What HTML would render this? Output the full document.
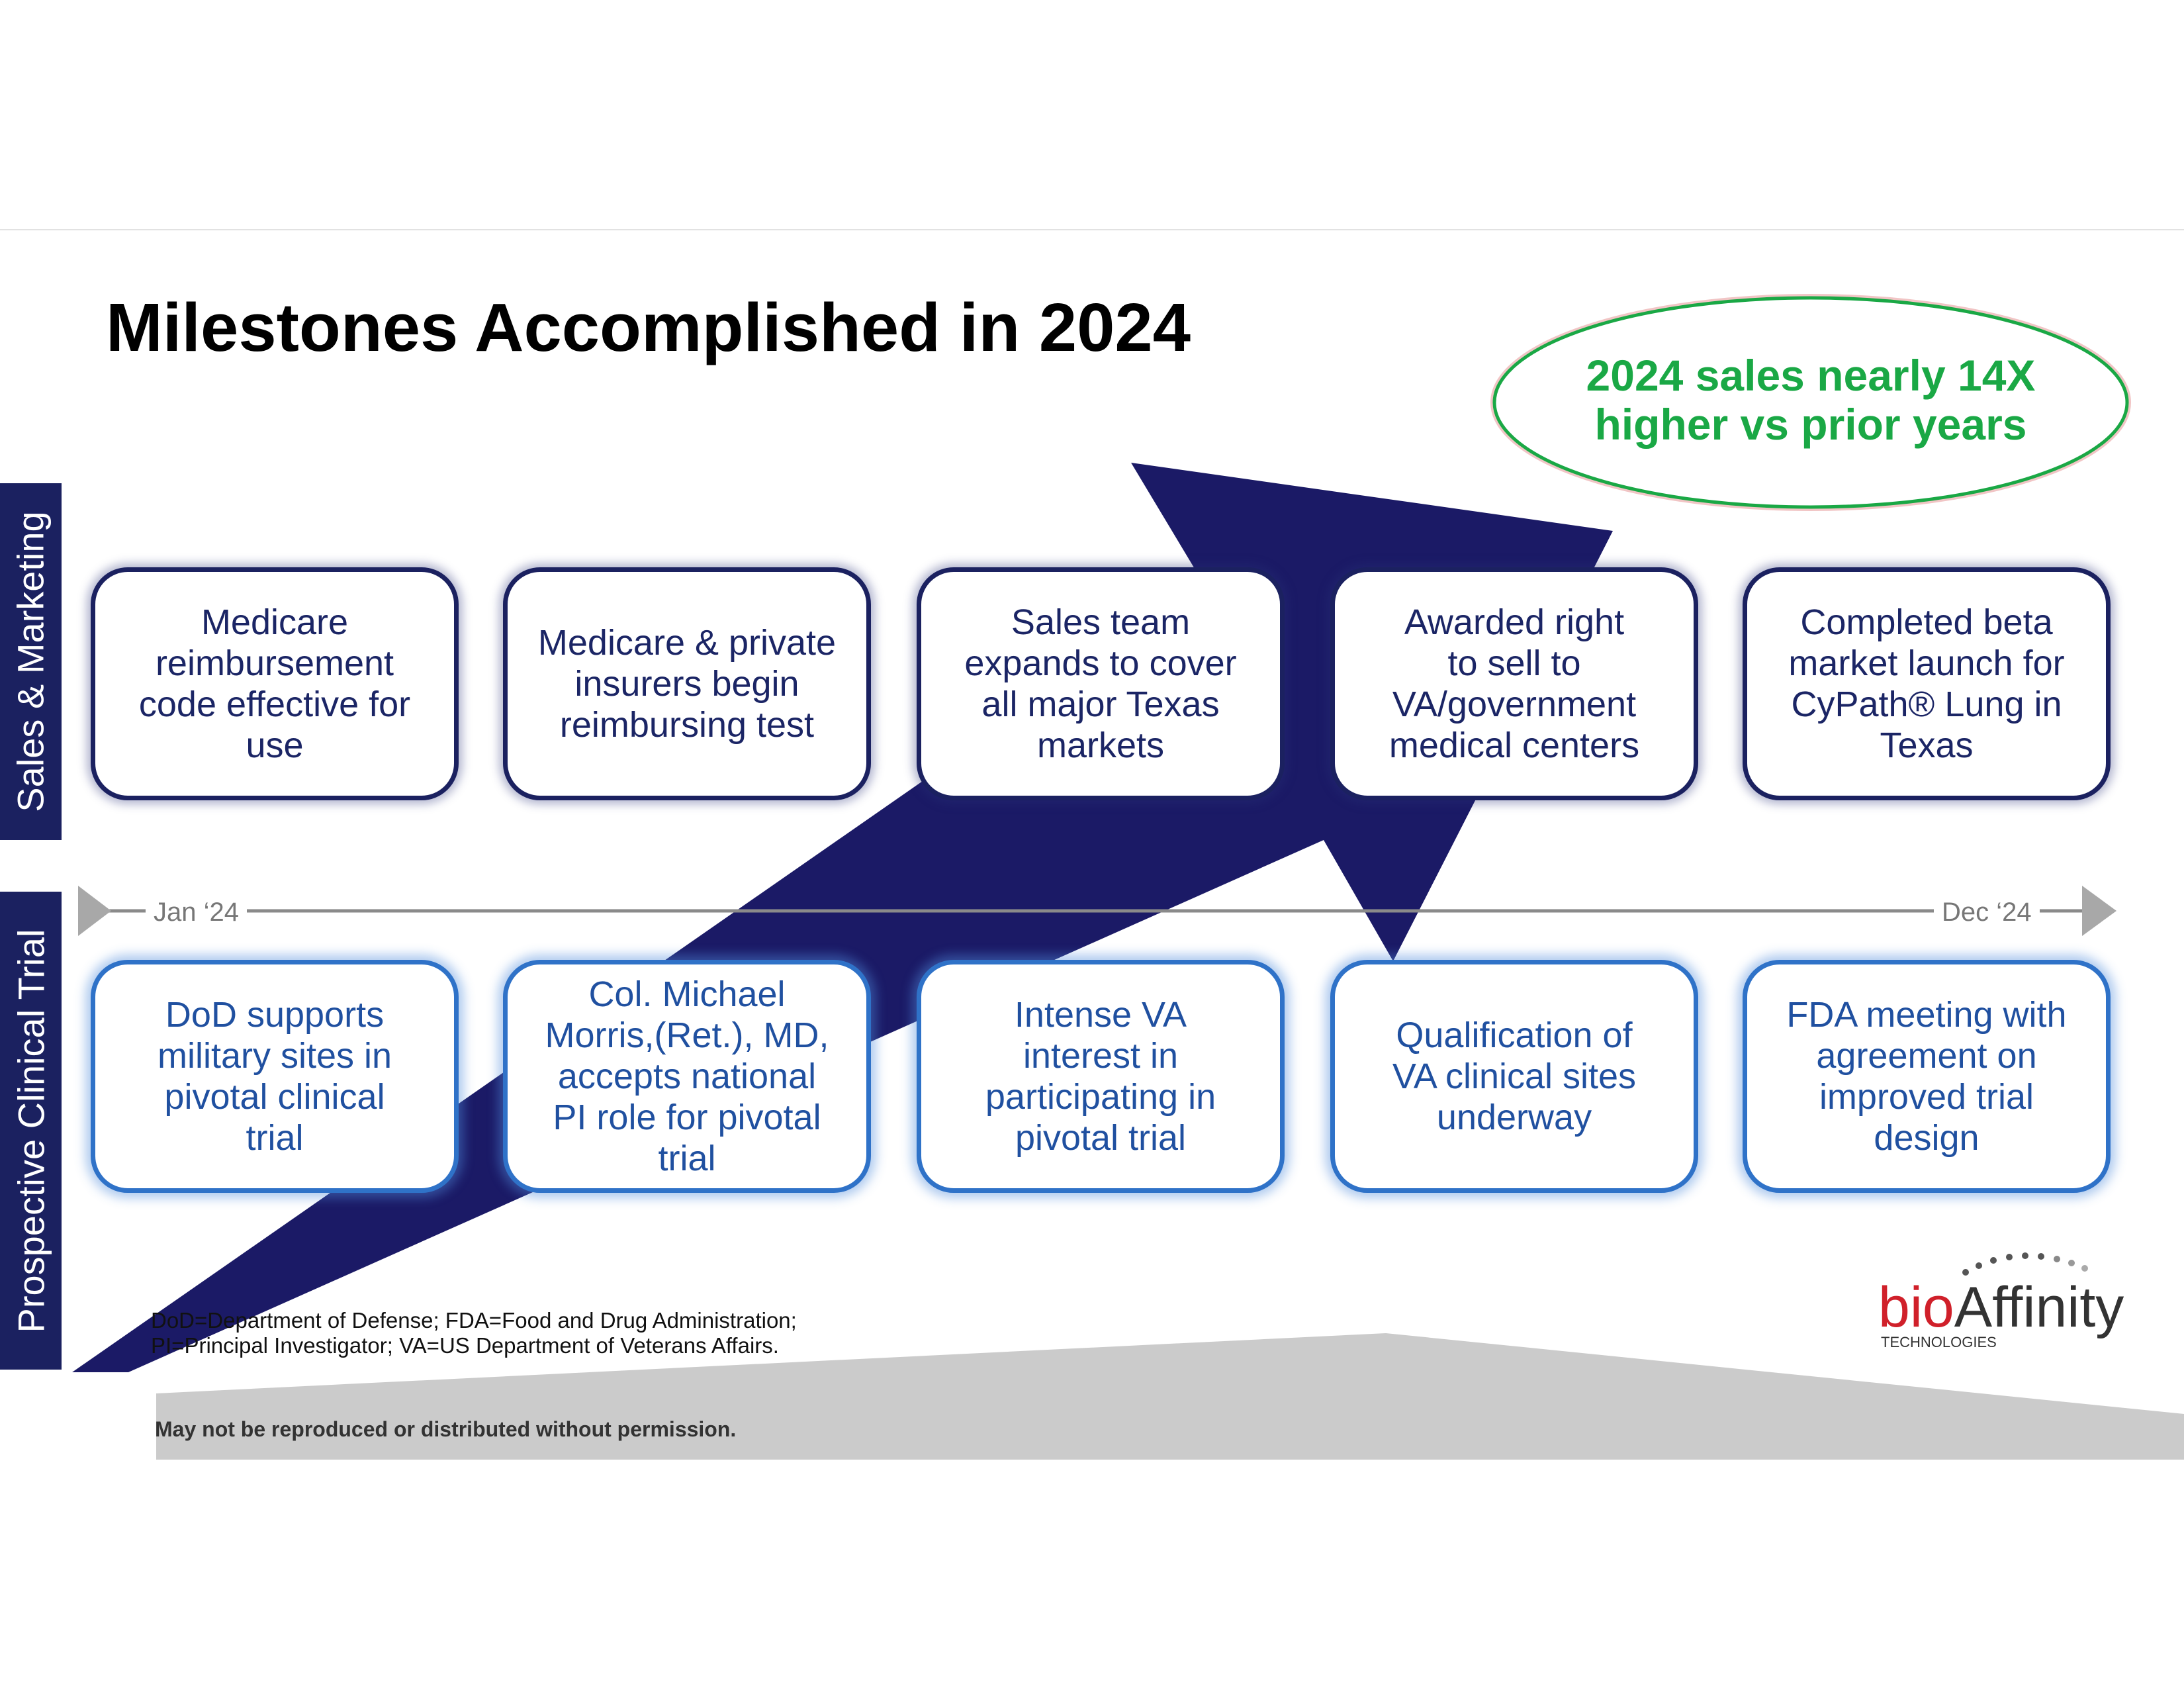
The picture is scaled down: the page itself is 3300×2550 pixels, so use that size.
<!DOCTYPE html>
<html><head><meta charset="utf-8"><style>
*{margin:0;padding:0;box-sizing:border-box}
body{width:3300px;height:2550px;background:#fff;position:relative;overflow:hidden;font-family:"Liberation Sans",sans-serif}
.abs{position:absolute}
.box{position:absolute;width:556px;height:352px;border-radius:56px;background:#fff;display:flex;align-items:center;justify-content:center;text-align:center;font-size:54px;line-height:62px;padding:0 10px;white-space:nowrap}
.top{border:7px solid #1b2160;color:#1b2565;box-shadow:0 0 14px 6px rgba(40,50,120,.35)}
.bot{border:7px solid #2f72c8;color:#2050a0;box-shadow:0 0 16px 8px rgba(80,140,220,.45)}
.side{position:absolute;left:0;width:93px;background:#1b2160;color:#fff;font-size:56px;display:flex;align-items:center;justify-content:center}
.side span{transform:rotate(-90deg);white-space:nowrap}
</style></head><body>
<div class="abs" style="left:0;top:346px;width:3300px;height:2px;background:#e2e2e2"></div>
<svg class="abs" style="left:0;top:0" width="3300" height="2550">
<polygon points="236,2105 2094,2014 3300,2136 3300,2205 236,2205" fill="#cbcbcb"/>
<polygon points="109,2073 1820,884 1709,699 2437,802 2105,1452 2000,1269 194,2073" fill="#1b1a66"/>
<line x1="160" y1="1376" x2="3150" y2="1376" stroke="#8a8a8a" stroke-width="5"/>
<polygon points="118,1338 168,1376 118,1414" fill="#a8a8a8"/>
<polygon points="3146,1338 3198,1376 3146,1414" fill="#a8a8a8"/>
<ellipse cx="2736" cy="608" rx="478" ry="158" fill="#fff" stroke="#e8a0a0" stroke-width="12" opacity=".6"/>
<ellipse cx="2736" cy="608" rx="478" ry="158" fill="#fff" stroke="#1aa845" stroke-width="5"/>
</svg>
<div class="abs" style="left:160px;top:436px;font-size:103px;font-weight:bold;color:#000">Milestones Accomplished in 2024</div>
<div class="abs" style="left:2256px;top:530px;width:960px;text-align:center;font-size:66px;line-height:74px;font-weight:bold;color:#1aa845">2024 sales nearly 14X<br>higher vs prior years</div>
<div class="side" style="top:730px;height:539px"><span>Sales &amp; Marketing</span></div>
<div class="side" style="top:1347px;height:722px"><span>Prospective Clinical Trial</span></div>
<div class="abs" style="left:220px;top:1360px;background:#fff;padding:0 12px;font-size:40px;line-height:36px;color:#777">Jan ‘24</div>
<div class="abs" style="left:2922px;top:1360px;background:#fff;padding:0 12px;font-size:40px;line-height:36px;color:#777">Dec ‘24</div>
<div class="box top" style="left:137px;top:857px">Medicare<br>reimbursement<br>code effective for<br>use</div>
<div class="box top" style="left:760px;top:857px">Medicare &amp; private<br>insurers begin<br>reimbursing test</div>
<div class="box top" style="left:1385px;top:857px">Sales team<br>expands to cover<br>all major Texas<br>markets</div>
<div class="box top" style="left:2010px;top:857px">Awarded right<br>to sell to<br>VA/government<br>medical centers</div>
<div class="box top" style="left:2633px;top:857px">Completed beta<br>market launch for<br>CyPath® Lung in<br>Texas</div>
<div class="box bot" style="left:137px;top:1450px">DoD supports<br>military sites in<br>pivotal clinical<br>trial</div>
<div class="box bot" style="left:760px;top:1450px">Col. Michael<br>Morris,(Ret.), MD,<br>accepts national<br>PI role for pivotal<br>trial</div>
<div class="box bot" style="left:1385px;top:1450px">Intense VA<br>interest in<br>participating in<br>pivotal trial</div>
<div class="box bot" style="left:2010px;top:1450px">Qualification of<br>VA clinical sites<br>underway</div>
<div class="box bot" style="left:2633px;top:1450px">FDA meeting with<br>agreement on<br>improved trial<br>design</div>
<div class="abs" style="left:228px;top:1976px;font-size:33px;line-height:38px;color:#111">DoD=Department of Defense; FDA=Food and Drug Administration;<br>PI=Principal Investigator; VA=US Department of Veterans Affairs.</div>
<div class="abs" style="left:234px;top:2141px;font-size:32px;font-weight:bold;color:#333">May not be reproduced or distributed without permission.</div>
<div class="abs" style="left:2838px;top:1930px;font-size:86px;line-height:90px;color:#333"><span style="color:#d0202a">bio</span>Affinity</div>
<div class="abs" style="left:2842px;top:2015px;font-size:22px;color:#333">TECHNOLOGIES</div>
<svg class="abs" style="left:2960px;top:1880px" width="260" height="80">
<g fill="#555"><circle cx="10" cy="42" r="5"/><circle cx="30" cy="32" r="5"/><circle cx="52" cy="24" r="5"/><circle cx="76" cy="19" r="5"/><circle cx="100" cy="17" r="5"/><circle cx="124" cy="18" r="5"/><circle cx="148" cy="22" r="5" fill="#888"/><circle cx="170" cy="28" r="5" fill="#999"/><circle cx="190" cy="36" r="5" fill="#aaa"/></g></svg>
</body></html>
